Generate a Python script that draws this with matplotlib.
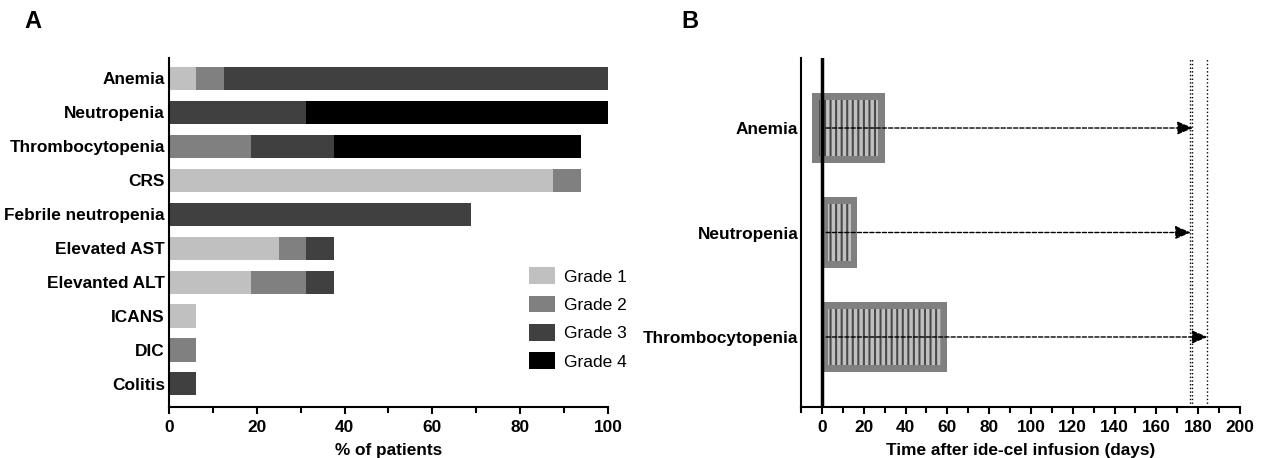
import numpy as np
import matplotlib
matplotlib.use('Agg')
import matplotlib.pyplot as plt
from matplotlib.ticker import MultipleLocator

plt.rcParams['font.family'] = ['Liberation Sans', 'DejaVu Sans']
plt.rcParams['hatch.linewidth'] = 1.5

###############################################################################
# data
###############################################################################

# panel A - adverse events by grade (% of patients)
ae_names = ['Anemia', 'Neutropenia', 'Thrombocytopenia', 'CRS', 'Febrile neutropenia',
            'Elevated AST', 'Elevanted ALT', 'ICANS', 'DIC', 'Colitis']
grade1 = [6.25, 0, 0, 87.5, 0, 25, 18.75, 6.25, 0, 0]
grade2 = [6.25, 0, 18.75, 6.25, 0, 6.25, 12.5, 0, 6.25, 0]
grade3 = [87.5, 31.25, 18.75, 0, 68.75, 6.25, 6.25, 0, 0, 6.25]
grade4 = [0, 68.75, 56.25, 0, 0, 0, 0, 0, 0, 0]
grade_labels = ['Grade 1', 'Grade 2', 'Grade 3', 'Grade 4']
grade_colors = ['#c0c0c0', '#808080', '#404040', '#000000']

# panel B - cytopenia duration (days after infusion)
cyto_names = ['Anemia', 'Neutropenia', 'Thrombocytopenia']
cyto_start = [-4.5, 0, 0]
cyto_end = [30, 17, 60]
arrow_start = [2, 2, 2]
arrow_end = [177.5, 176.5, 184.5]
followup_days = [176, 177, 184]

###############################################################################
# figure
###############################################################################

W, H = 1261, 458
fig = plt.figure(figsize=(W / 100, H / 100), dpi=100)
FS = 12.4

def px_axes(x0, x1, y0, y1):
    return fig.add_axes([x0 / W, 1 - y1 / H, (x1 - x0) / W, (y1 - y0) / H])

axA = px_axes(169, 608, 58, 407)
axB = px_axes(801, 1240, 58, 407)

# ---- panel A
ypos = np.arange(len(ae_names))
left = np.zeros(len(ae_names))
for vals, lab, col in zip([grade1, grade2, grade3, grade4], grade_labels, grade_colors):
    vals = np.array(vals)
    axA.barh(ypos, vals, left=left, height=0.68, color=col, edgecolor='none', label=lab)
    left += vals

axA.set_xlim(0, 100)
axA.set_ylim(len(ae_names) - 1 + 0.68, -0.6)
axA.set_yticks(ypos)
axA.set_yticklabels(ae_names, fontsize=FS, fontweight='bold')
axA.xaxis.set_major_locator(MultipleLocator(20))
axA.xaxis.set_minor_locator(MultipleLocator(10))
for lbl in axA.get_xticklabels():
    lbl.set_fontweight('bold')
axA.tick_params(axis='x', which='major', length=5, width=1.5, labelsize=FS, pad=4)
axA.tick_params(axis='x', which='minor', length=4, width=1.5)
axA.tick_params(axis='y', length=0, pad=3)
axA.set_xlabel('% of patients', fontsize=FS, fontweight='bold', labelpad=6)
for s in ['top', 'right']:
    axA.spines[s].set_visible(False)
for s in ['left', 'bottom']:
    axA.spines[s].set_linewidth(1.5)

axA.legend(loc='upper left', bbox_to_anchor=(0.805, 0.42), frameon=False, fontsize=12.5,
           handlelength=1.5, handleheight=1.1, labelspacing=0.64, handletextpad=0.5,
           borderaxespad=0)

# ---- panel B
ypB = np.arange(len(cyto_names))
widths = np.array(cyto_end) - np.array(cyto_start)
inset_x, inset_y = 3.0, 0.064
axB.barh(ypB, widths, left=cyto_start, height=0.67, color='#808080',
         edgecolor='none', zorder=2)
axB.barh(ypB, widths - 2 * inset_x, left=np.array(cyto_start) + inset_x,
         height=0.67 - 2 * inset_y, color='#c0c0c0',
         edgecolor='#4a4a4a', hatch='|||', linewidth=0, zorder=2)
axB.axvline(0, color='black', lw=2.5, zorder=3)

for d in followup_days:
    axB.axvline(d, color='black', ls=':', lw=1, zorder=1)

for y, a0, a1 in zip(ypB, arrow_start, arrow_end):
    axB.annotate('', xy=(a1, y), xytext=(a0, y),
                 arrowprops=dict(arrowstyle='-|>,head_length=0.95,head_width=0.4',
                                 linestyle=(0, (3, 1.5)), color='black', lw=1,
                                 shrinkA=0, shrinkB=0), zorder=4)

axB.set_xlim(-10, 200)
axB.set_ylim(len(cyto_names) - 1 + 0.67, -0.67)
axB.set_yticks(ypB)
axB.set_yticklabels(cyto_names, fontsize=FS, fontweight='bold')
axB.set_xticks(np.arange(0, 201, 20))
axB.xaxis.set_minor_locator(MultipleLocator(10))
for lbl in axB.get_xticklabels():
    lbl.set_fontweight('bold')
axB.tick_params(axis='x', which='major', length=5, width=1.5, labelsize=FS, pad=4)
axB.tick_params(axis='x', which='minor', length=4, width=1.5)
axB.tick_params(axis='y', length=0, pad=2)
axB.set_xlabel('Time after ide-cel infusion (days)', fontsize=FS, fontweight='bold', labelpad=6)
for s in ['top', 'right']:
    axB.spines[s].set_visible(False)
for s in ['left', 'bottom']:
    axB.spines[s].set_linewidth(1.5)

# panel letters
fig.text(33 / W, 1 - 22 / H, 'A', fontsize=17, fontweight='bold', ha='center', va='center')
fig.text(690 / W, 1 - 22 / H, 'B', fontsize=17, fontweight='bold', ha='center', va='center')

fig.savefig('out.png', dpi=100)
